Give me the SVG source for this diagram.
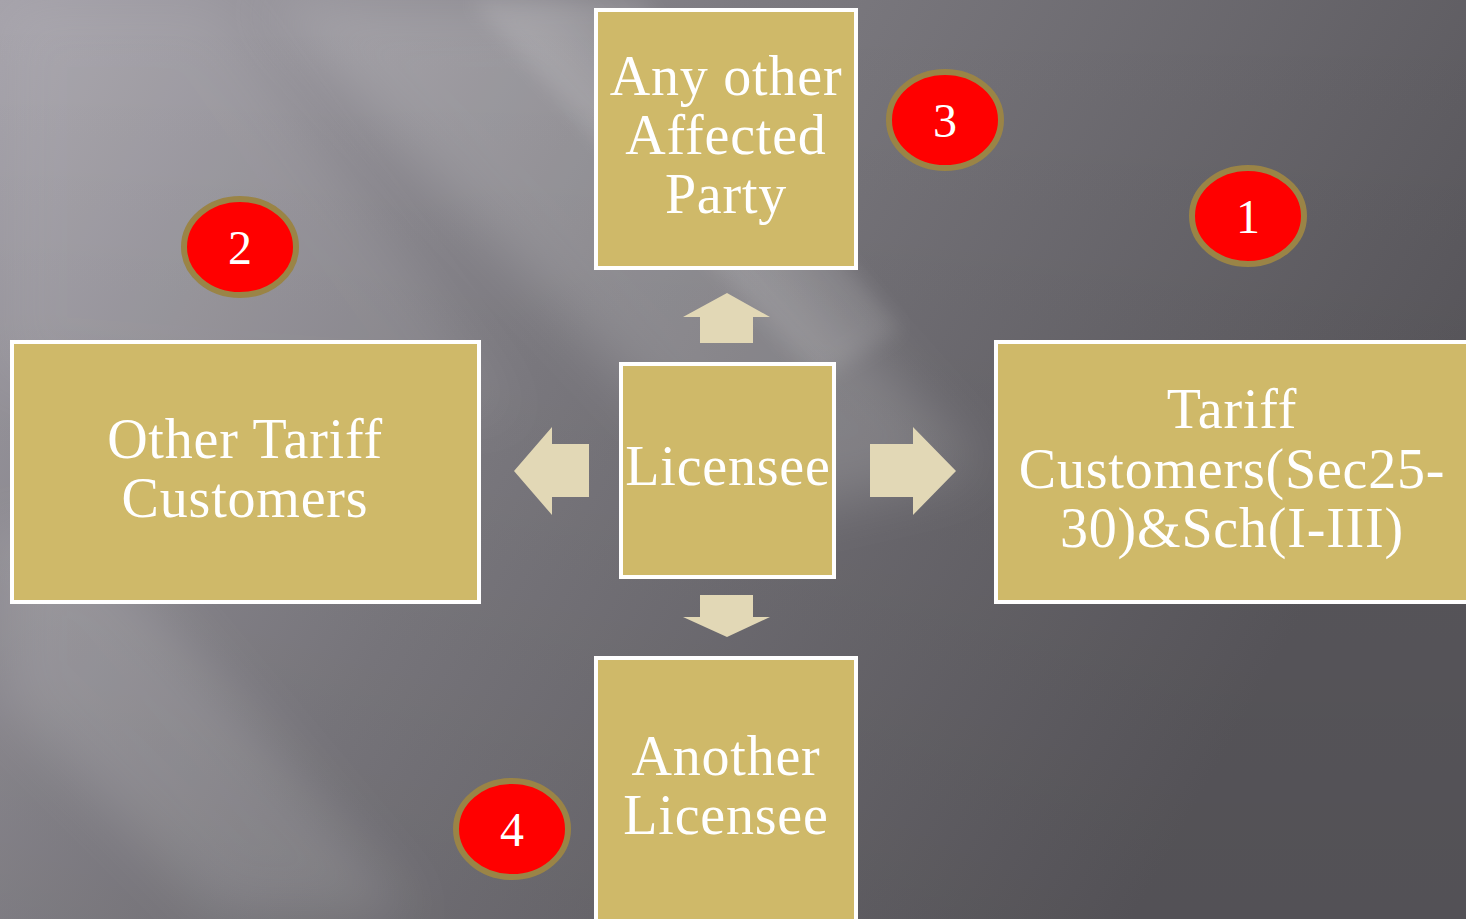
<svg xmlns="http://www.w3.org/2000/svg" width="1466" height="919" viewBox="0 0 1466 919">
  <defs>
    <linearGradient id="bg" x1="0" y1="0" x2="1" y2="0.35">
      <stop offset="0" stop-color="#a4a1a9"/>
      <stop offset="0.45" stop-color="#7d7b81"/>
      <stop offset="1" stop-color="#5a585d"/>
    </linearGradient>
    <linearGradient id="shade" x1="0" y1="0" x2="0" y2="1">
      <stop offset="0" stop-color="#000" stop-opacity="0"/>
      <stop offset="1" stop-color="#000" stop-opacity="0.08"/>
    </linearGradient>
    <filter id="soft" x="-20%" y="-20%" width="140%" height="140%">
      <feGaussianBlur stdDeviation="28"/>
    </filter>
    <filter id="soft2" x="-20%" y="-20%" width="140%" height="140%">
      <feGaussianBlur stdDeviation="10"/>
    </filter>
  </defs>
  <style>
    .box { fill: #cfb969; stroke: #ffffff; stroke-width: 4; }
    .arrow { fill: #e2d8b6; }
    .badge { fill: #ff0000; stroke: #9a8446; stroke-width: 6; }
    .label { font-family: "Liberation Serif", "Times New Roman", serif; font-size: 56px; letter-spacing: 0.8px; fill: #ffffff; text-anchor: middle; }
    .num { font-family: "Liberation Serif", "Times New Roman", serif; font-size: 48px; fill: #ffffff; text-anchor: middle; }
  </style>

  <!-- background with diagonal light streaks -->
  <rect x="0" y="0" width="1466" height="919" fill="url(#bg)"/>
  <g fill="#ffffff">
    <polygon points="260,0 560,0 980,470 760,520" opacity="0.16" filter="url(#soft)"/>
    <polygon points="470,0 640,0 900,330 820,380" opacity="0.12" filter="url(#soft2)"/>
    <polygon points="0,520 120,560 420,919 220,919 0,700" opacity="0.14" filter="url(#soft)"/>
    <polygon points="0,0 220,0 520,420 0,380" opacity="0.08" filter="url(#soft)"/>
  </g>
  <rect x="0" y="0" width="1466" height="919" fill="url(#shade)"/>

  <!-- nodes -->
  <g id="node-affected-party">
    <rect class="box" x="596" y="10" width="260" height="258"/>
    <text class="label" x="726" y="95">Any other</text>
    <text class="label" x="726" y="154">Affected</text>
    <text class="label" x="726" y="213">Party</text>
  </g>
  <g id="node-other-tariff">
    <rect class="box" x="12" y="342" width="467" height="260"/>
    <text class="label" x="245" y="458">Other Tariff</text>
    <text class="label" x="245" y="517">Customers</text>
  </g>
  <g id="node-licensee">
    <rect class="box" x="621" y="364" width="213" height="213"/>
    <text class="label" x="728" y="485">Licensee</text>
  </g>
  <g id="node-tariff-customers">
    <rect class="box" x="996" y="342" width="474" height="260"/>
    <text class="label" x="1232" y="428">Tariff</text>
    <text class="label" x="1232" y="488">Customers(Sec25-</text>
    <text class="label" x="1232" y="547">30)&amp;Sch(I-III)</text>
  </g>
  <g id="node-another-licensee">
    <rect class="box" x="596" y="658" width="260" height="265"/>
    <text class="label" x="726" y="775">Another</text>
    <text class="label" x="726" y="834">Licensee</text>
  </g>

  <!-- numbered badges -->
  <g id="badge-1">
    <ellipse class="badge" cx="1248" cy="216" rx="56" ry="48"/>
    <text class="num" x="1248" y="233">1</text>
  </g>
  <g id="badge-2">
    <ellipse class="badge" cx="240" cy="247" rx="56" ry="48"/>
    <text class="num" x="240" y="264">2</text>
  </g>
  <g id="badge-3">
    <ellipse class="badge" cx="945" cy="120" rx="56" ry="48"/>
    <text class="num" x="945" y="137">3</text>
  </g>
  <g id="badge-4">
    <ellipse class="badge" cx="512" cy="829" rx="56" ry="48"/>
    <text class="num" x="512" y="846">4</text>
  </g>

  <!-- connectors: block arrows out of the centre node -->
  <g id="connectors">
    <polygon class="arrow" points="700,343 753,343 753,317 770,317 727,293 683,317 700,317"/>
    <polygon class="arrow" points="700,595 753,595 753,617 770,617 727,637 683,617 700,617"/>
    <polygon class="arrow" points="589,444 589,497 552,497 552,515 514,471 552,427 552,444"/>
    <polygon class="arrow" points="870,444 870,497 913,497 913,515 956,471 913,427 913,444"/>
  </g>
</svg>
